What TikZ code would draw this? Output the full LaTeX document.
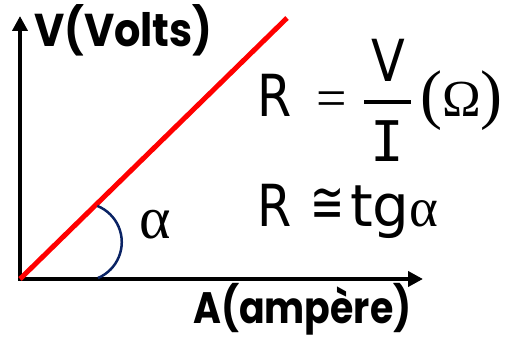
\documentclass[tikz,border=0pt]{standalone}
\usepackage{fontspec}
\usepackage{graphicx}
\setmainfont{DejaVu Sans}[FakeStretch=0.85]
\newfontfamily\labelfont{Poppins}[FakeStretch=0.9]
\newfontfamily\narrowlabelfont{Poppins}[FakeStretch=0.86]
\newfontfamily\greekfont{Liberation Serif}
\newfontfamily\relfont{DejaVu Sans}
\newfontfamily\slabfont{DejaVu Sans Mono}
\usetikzlibrary{arrows.meta,positioning}
\definecolor{arcblue}{RGB}{10,35,100}
\begin{document}
\begin{tikzpicture}[x=1pt, y=1pt, >={Triangle[length=15pt,width=15pt]},
  axislabel/.style={inner sep=0pt, anchor=base west},
  formula/.style={font=\fontsize{58}{58}\selectfont, inner sep=0pt}]
\useasboundingbox (0,0) rectangle (513,337);
% Axes
\coordinate (O) at (20,58);
\coordinate (yTip) at (20,321);
\coordinate (xTip) at (423,58);
\draw[<->, line width=4pt] (yTip) -- (O) -- (xTip);
\node[axislabel, font=\labelfont\bfseries\fontsize{46}{46}\selectfont] (vlabel) at (34,290) {V(Volts)};
\node[axislabel, font=\narrowlabelfont\bfseries\fontsize{44}{44}\selectfont] (alabel) at (193,14) {A(ampère)};
% Line
\coordinate (lineEnd) at (287,319);
\draw[red, line width=5pt] (O) -- (lineEnd);
% Angle
\draw[arcblue, line width=2.5pt] (98,59) arc[start angle=-67, end angle=68, radius=39];
\node[inner sep=0pt, font=\greekfont\fontsize{60}{60}\selectfont] (alpha) at (155,112) {α};
% R = V/I
\node[formula, anchor=base west] (R1) at (257,220) {R};
\node[inner sep=0pt, anchor=base west, font=\greekfont\fontsize{54}{54}\selectfont] (eq1) at (316,220) {=};
\node[formula, anchor=base] (num) at (388,255) {V};
\node[formula, anchor=base, font=\slabfont\fontsize{56}{56}\selectfont] (den) at (387,175) {I};
\coordinate (barL) at (364,235);
\coordinate (barR) at (411,235);
\draw[line width=3.5pt] (barL) -- (barR);
\node[inner sep=0pt, anchor=base west, font=\greekfont\fontsize{66}{66}\selectfont] (ohm) at (420,220)
  {(\fontsize{52}{52}\selectfont Ω\fontsize{66}{66}\selectfont)};
% R = tg alpha
\node[formula, anchor=base west] (R2) at (257,110) {R};
\node[inner sep=0pt, font=\relfont\fontsize{48}{48}\selectfont] (cong) at (328,132) {\scalebox{0.85}[1.2]{≅}};
\node[inner sep=0pt, anchor=base west, font=\relfont\fontsize{58}{58}\selectfont] (tg) at (350,110)
  {tg\greekfont\fontsize{55}{55}\selectfont α};
\end{tikzpicture}
\end{document}
